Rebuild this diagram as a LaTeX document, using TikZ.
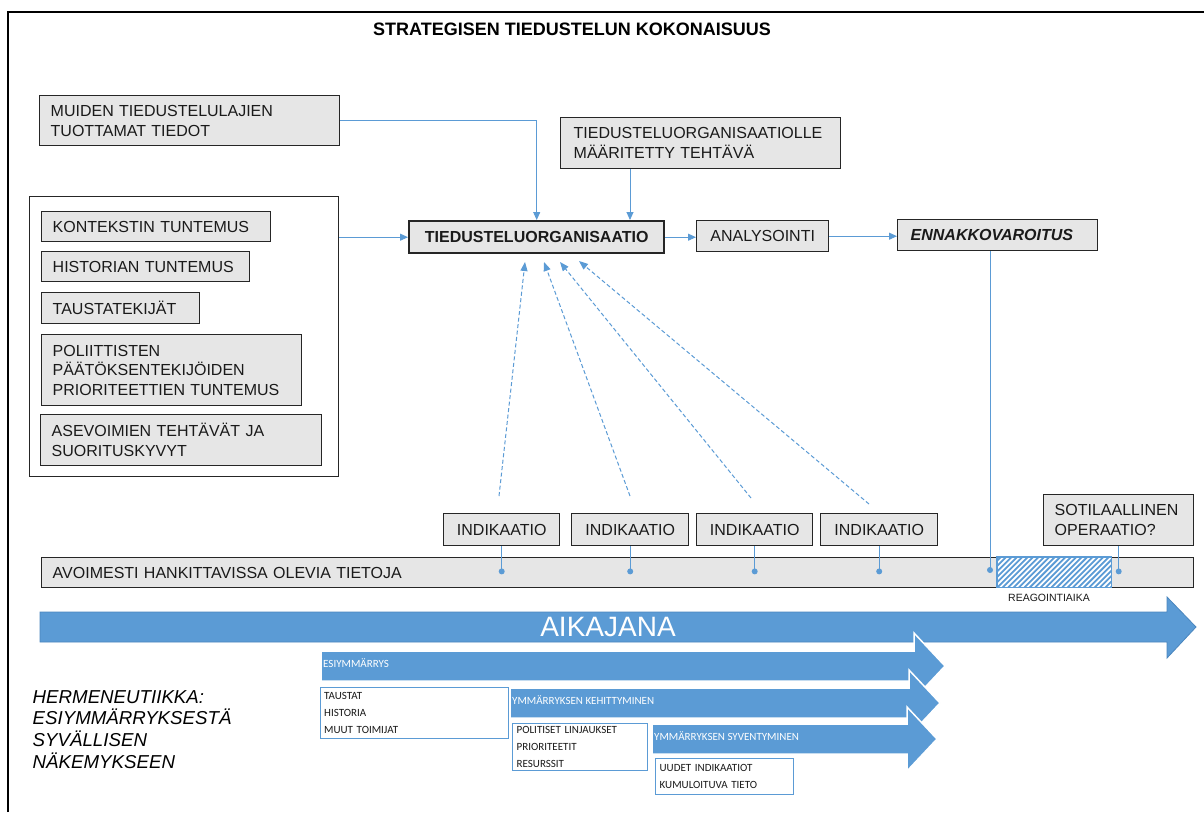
\documentclass[tikz,border=0pt]{standalone}
\usepackage{fontspec}
\setmainfont{Liberation Sans}
\newfontfamily\calfont{Carlito}
\usetikzlibrary{arrows.meta,calc}
\definecolor{bblue}{HTML}{5B9BD5}
\definecolor{bdark}{HTML}{4A86BE}
\definecolor{boxgray}{HTML}{E6E6E6}
\definecolor{txt}{HTML}{1A1A1A}
\definecolor{bord}{HTML}{262626}
\hyphenpenalty=10000
\exhyphenpenalty=10000
\newcommand{\fmain}{\fontsize{16}{19.7}\selectfont}
\newcommand{\fsmall}{\calfont\fontsize{11}{16.7}\selectfont}
\begin{document}
\begin{tikzpicture}[x=1pt,y=-1pt,
  gbox/.style={draw=bord, fill=boxgray, line width=1.4pt, inner xsep=11pt, inner ysep=0pt, anchor=north west, align=left, font=\fmain, text=txt},
  cbox/.style={draw=bord, fill=boxgray, line width=1.4pt, inner sep=0pt, anchor=north west, align=center, font=\fmain, text=txt},
  wbox/.style={draw=bblue, fill=white, line width=1.3pt, inner xsep=3.5pt, inner ysep=0pt, anchor=north west, align=left, font=\fsmall, text=txt},
  conn/.style={draw=bblue, line width=0.9pt},
  tip/.style={-{Triangle[length=8pt,width=7pt]}},
  dashc/.style={draw=bblue, line width=1pt, dash pattern=on 4pt off 2.5pt, -{Triangle[length=9pt,width=7pt]}},
  dotn/.style={circle, fill=bblue, minimum size=6pt, inner sep=0pt},
  barrow/.style={fill=bblue, draw=white, line width=1.5pt},
  alabel/.style={anchor=west, inner sep=0pt, font=\calfont\fontsize{11}{13}\selectfont, text=white}
]
\useasboundingbox (0,0) rectangle (1204,812);
\fill[white] (0,0) rectangle (1204,812);
\draw[line width=2pt, black] (8,812) -- (8,12) -- (1204,12);

% title
\node[font=\bfseries\fontsize{18}{20}\selectfont, text=black, inner sep=0pt] (title) at (572,29) {STRATEGISEN TIEDUSTELUN KOKONAISUUS};

% top boxes
\node[gbox, text width=278pt, minimum height=50pt] (muiden) at (39,95) {MUIDEN TIEDUSTELULAJIEN\\TUOTTAMAT TIEDOT};
\node[gbox, inner xsep=13pt, text width=254pt, minimum height=51pt] (tehtava) at (560,117) {TIEDUSTELUORGANISAATIOLLE\\MÄÄRITETTY TEHTÄVÄ};

% left group
\node[draw=bord, line width=1.3pt, fill=white, minimum width=309pt, minimum height=280pt, anchor=north west, inner sep=0pt] (grp) at (29,196) {};
\node[gbox, text width=207pt, minimum height=30pt] (kont) at (41,211) {KONTEKSTIN TUNTEMUS};
\node[gbox, text width=186pt, minimum height=30pt] (hist) at (41,251) {HISTORIAN TUNTEMUS};
\node[gbox, text width=136pt, minimum height=31pt] (taus) at (41,292) {TAUSTATEKIJÄT};
\node[gbox, text width=238pt, minimum height=71pt] (pol) at (41,334) {POLIITTISTEN\\PÄÄTÖKSENTEKIJÖIDEN\\PRIORITEETTIEN TUNTEMUS};
\node[gbox, text width=259pt, minimum height=51pt] (ase) at (40,414) {ASEVOIMIEN TEHTÄVÄT JA\\SUORITUSKYVYT};

% main row
\node[cbox, line width=2.4pt, font=\fmain\bfseries, minimum width=255pt, minimum height=32pt] (org) at (408,220) {TIEDUSTELUORGANISAATIO};
\node[cbox, minimum width=132pt, minimum height=31pt] (anal) at (696,220) {ANALYSOINTI};
\node[gbox, inner xsep=13pt, text width=174pt, minimum height=31pt, font=\fmain\bfseries\itshape] (enn) at (897,219) {ENNAKKOVAROITUS};

% indicators
\node[cbox, minimum width=116pt, minimum height=32pt] (ind1) at (443,513) {INDIKAATIO};
\node[cbox, minimum width=117pt, minimum height=32pt] (ind2) at (571,513) {INDIKAATIO};
\node[cbox, minimum width=116pt, minimum height=32pt] (ind3) at (696,513) {INDIKAATIO};
\node[cbox, minimum width=117pt, minimum height=32pt] (ind4) at (820,513) {INDIKAATIO};
\node[gbox, text width=128pt, minimum height=51pt] (sot) at (1043,494) {SOTILAALLINEN\\OPERAATIO?};

% open-source bar
\node[gbox, text width=1130pt, minimum height=30pt] (bar) at (41,557) {AVOIMESTI HANKITTAVISSA OLEVIA TIETOJA};
\node[draw=none, fill=white, minimum width=114pt, minimum height=30pt, anchor=north west, inner sep=0pt] (hatch) at (997,557) {};
\begin{scope}
  \clip (hatch.south west) rectangle (hatch.north east);
  \foreach \k in {0,...,28} {
    \draw[bblue, line width=1.8pt] ($(hatch.south west)+(\k*5.4-32,0)$) -- ++(34,-34);
  }
\end{scope}
\draw[bblue, line width=1.2pt] (hatch.south west) rectangle (hatch.north east);
\node[font=\fontsize{10.5}{12}\selectfont, text=txt, inner sep=0pt] (reag) at (1049,598) {REAGOINTIAIKA};

% connectors
\draw[conn,tip] (muiden.east) -| (org.north);
\coordinate (tx) at (630,0);
\draw[conn,tip] (tehtava.south -| tx) -- (org.north -| tx);
\draw[conn,tip] (grp.east |- org.west) -- (org.west);
\draw[conn,tip] (org.east) -- (anal.west |- org.east);
\draw[conn,tip] (anal.east) -- (enn.west |- anal.east);

\foreach \i in {1,...,4} {
  \path (ind\i.south) ++(0,25) node[dotn] (d\i) {};
  \draw[conn] (ind\i.south) -- (d\i.center);
}
\coordinate (ex) at (990,0);
\node[dotn] (d5) at (990,570) {};
\draw[conn] (enn.south -| ex) -- (d5.center);
\path (sot.south) ++(0,25) node[dotn] (d6) {};
\draw[conn] (sot.south) -- (d6.center);

% dashed indicator arrows
\coordinate (s1) at (499,496); \coordinate (t1) at (525,262);
\coordinate (s2) at (630,496); \coordinate (t2) at (544,262);
\coordinate (s3) at (751,498); \coordinate (t3) at (560,262);
\coordinate (s4) at (869,504); \coordinate (t4) at (579,261);
\draw[dashc] (s1) -- (t1);
\draw[dashc] (s2) -- (t2);
\draw[dashc] (s3) -- (t3);
\draw[dashc] (s4) -- (t4);

% timeline arrow
\path[fill=bblue, draw=bdark, line width=0.8pt] (40,612) -- (1167,612) -- (1167,597) -- (1196,627) -- (1167,658) -- (1167,642) -- (40,642) -- cycle;
\node[text=white, font=\fontsize{28}{30}\selectfont, inner sep=0pt] (aika) at (608,627) {AIKAJANA};

% understanding arrows
\path[barrow] (321,651) -- (914,651) -- (914,633) -- (945,666) -- (914,699) -- (914,681) -- (321,681) -- cycle;
\path[barrow] (510,688) -- (909,688) -- (909,670) -- (940,703) -- (909,736) -- (909,718) -- (510,718) -- cycle;
\path[barrow] (652,724) -- (907,724) -- (907,707) -- (937,739) -- (907,771) -- (907,754) -- (652,754) -- cycle;
\node[alabel] (lesi) at (323,663) {ESIYMMÄRRYS};
\node[alabel] (lkeh) at (512,700) {YMMÄRRYKSEN KEHITTYMINEN};
\node[alabel] (lsyv) at (654,736) {YMMÄRRYKSEN SYVENTYMINEN};

\node[wbox, text width=181pt, minimum height=51pt] (wtau) at (320,687) {TAUSTAT\\HISTORIA\\MUUT TOIMIJAT};
\node[wbox, inner xsep=4pt, text width=127pt, minimum height=47pt] (wpol) at (512,723) {POLITISET LINJAUKSET\\PRIORITEETIT\\RESURSSIT};
\node[wbox, inner xsep=4pt, text width=130pt, minimum height=36pt] (wuud) at (655,758) {UUDET INDIKAATIOT\\KUMULOITUVA TIETO};

% hermeneutics
\node[anchor=west, align=left, inner sep=0pt, text=black, font=\itshape\fontsize{18.7}{21.7}\selectfont] (herm) at (32.5,729.2) {HERMENEUTIIKKA:\\ESIYMMÄRRYKSESTÄ\\SYVÄLLISEN\\NÄKEMYKSEEN};
\end{tikzpicture}
\end{document}
